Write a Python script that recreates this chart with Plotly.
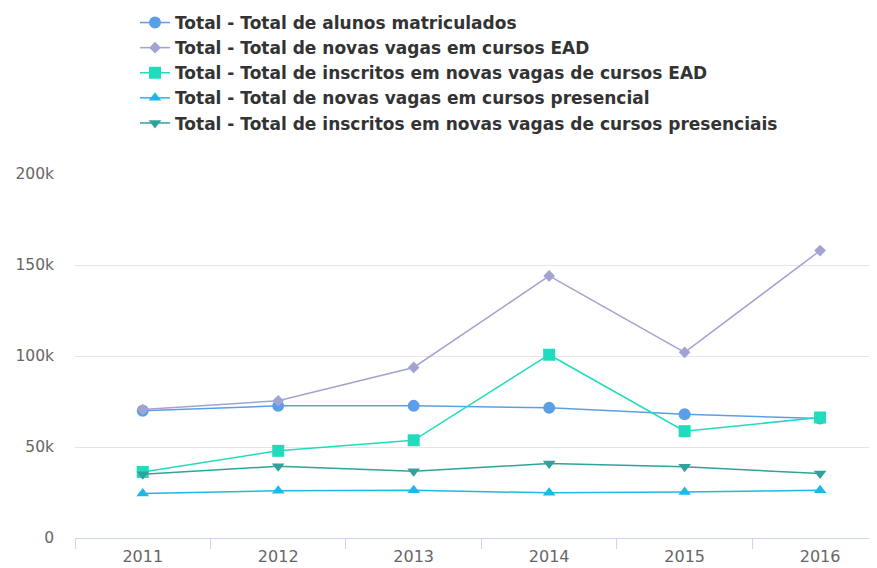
import plotly.graph_objects as go

anos = ["2011", "2012", "2013", "2014", "2015", "2016"]
nomes = [
    "Total - Total de alunos matriculados",
    "Total - Total de novas vagas em cursos EAD",
    "Total - Total de inscritos em novas vagas de cursos EAD",
    "Total - Total de novas vagas em cursos presencial",
    "Total - Total de inscritos em novas vagas de cursos presenciais",
]
alunos_matriculados = [69900, 72600, 72600, 71500, 68000, 65700]
vagas_ead = [70600, 75400, 93700, 144000, 102000, 157900]
inscritos_ead = [36300, 47900, 53700, 100700, 58700, 66200]
vagas_presencial = [24400, 25900, 26200, 24800, 25300, 26200]
inscritos_presencial = [35000, 39400, 36700, 40900, 39100, 35400]

series = [alunos_matriculados, vagas_ead, inscritos_ead, vagas_presencial, inscritos_presencial]
cores = ["#5a9fe6", "#a3a3d1", "#1fdcbc", "#1cb9e6", "#2fa39b"]
simbolos = ["circle", "diamond", "square", "triangle-up", "triangle-down"]
tamanhos = [12, 9, 12, 11, 11]

fig = go.Figure()
for nome, vals, cor, sim, tam in zip(nomes, series, cores, simbolos, tamanhos):
    fig.add_trace(go.Scatter(
        x=anos, y=vals, name=nome, mode="lines+markers",
        line=dict(color=cor, width=1.5),
        marker=dict(color=cor, symbol=sim, size=tam, line=dict(width=0)),
    ))

# page has an 8px body margin: figure starts at (8, 8)
fig.update_layout(
    width=869, height=560,
    margin=dict(l=67, r=0, t=166, b=30, autoexpand=False),
    paper_bgcolor="white", plot_bgcolor="white",
    font=dict(family="DejaVu Sans", color="#666666", size=14),
    showlegend=True,
    legend=dict(
        x=(135 - 75) / 802, y=1 + (166 + 3) / 364, xref="paper", yref="paper",
        xanchor="left", yanchor="top",
        font=dict(family="DejaVu Sans", size=17, color="#333333", weight="bold"),
        itemwidth=30, tracegroupgap=0, bgcolor="rgba(0,0,0,0)",
    ),
    xaxis=dict(
        type="category", range=[-0.5, 5.42],
        showline=True, linecolor="#ccd6eb", linewidth=1,
        ticks="outside", tickson="boundaries", ticklen=10, tickcolor="#ccd6eb",
        showgrid=False, tickfont=dict(size=16, color="#666666"), zeroline=False,
        tickangle=0, ticklabelstandoff=4,
    ),
    yaxis=dict(
        range=[0, 200000], tickvals=[0, 50000, 100000, 150000, 200000],
        ticktext=["0", "50k", "100k", "150k", "200k"],
        showgrid=True, gridcolor="#e6e6e6", zeroline=False, showline=False,
        ticks="", ticklabelstandoff=20, tickfont=dict(size=15.5, color="#666666"),
    ),
)

fig.write_html("out.html")
